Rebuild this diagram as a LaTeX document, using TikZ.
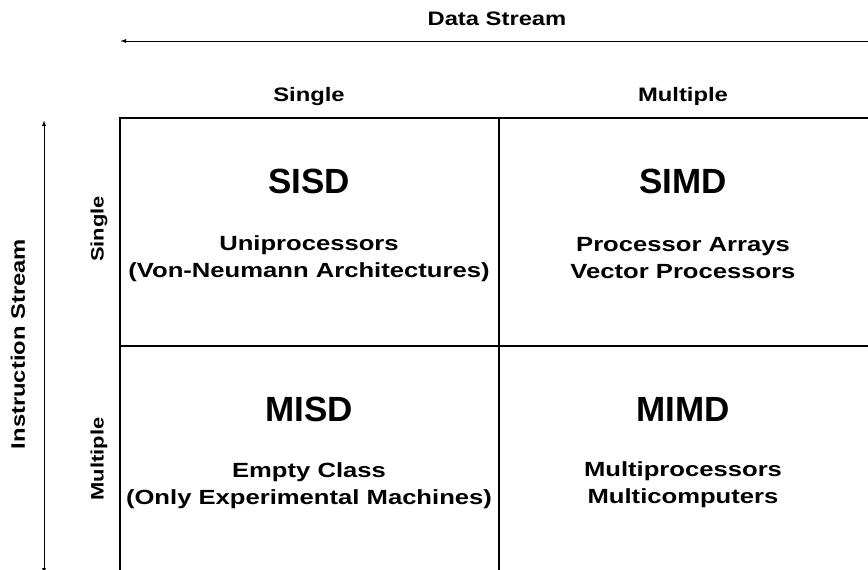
\documentclass[tikz,border=0pt]{standalone}
\usepackage{fontspec}
\setmainfont{Liberation Sans}
\newfontfamily\widesans[FakeStretch=1.22]{Liberation Sans}
\newfontfamily\widersans[FakeStretch=1.25]{Liberation Sans}
\usetikzlibrary{arrows.meta}

\begin{document}
\begin{tikzpicture}[x=1pt, y=-1pt, >={Latex[length=6pt,width=4pt]},
    axislabel/.style={font=\widesans\bfseries\fontsize{19.5}{22}\selectfont},
    sidelabel/.style={font=\widesans\bfseries\fontsize{18}{22}\selectfont, rotate=90},
    classname/.style={font=\bfseries\fontsize{35}{40}\selectfont},
    classtext/.style={font=\widersans\bfseries\fontsize{20.5}{27}\selectfont, align=center}]
  \useasboundingbox (0,0) rectangle (868,570);
  % stream arrows
  \coordinate (dataL) at (120,41);
  \coordinate (dataR) at (890,41);
  \draw[line width=1pt, <-] (dataL) -- (dataR);
  \node[axislabel] (data) at (497,19) {Data Stream};
  \coordinate (instT) at (44,120);
  \coordinate (instB) at (44,574);
  \draw[line width=1pt, <->] (instB) -- (instT);
  \node[axislabel, rotate=90] (inst) at (18,344) {Instruction Stream};
  % column and row headings
  \node[axislabel] (colS) at (309,96) {Single};
  \node[axislabel] (colM) at (683,96) {Multiple};
  \node[sidelabel] (rowS) at (99,229) {Single};
  \node[sidelabel] (rowM) at (99,459) {Multiple};
  % grid
  \draw[line width=1.3pt] (120,590) |- (890,118);
  \draw[line width=1.3pt] (499,118) -- (499,590);
  \draw[line width=1.3pt] (120,346) -- (890,346);
  % the four classes
  \node[classname] (sisd) at (309,181) {SISD};
  \node[classtext] (sisdT) at (309,259) {Uniprocessors\\(Von-Neumann Architectures)};
  \node[classname] (simd) at (683,181) {SIMD};
  \node[classtext] (simdT) at (683,258) {Processor Arrays\\Vector Processors};
  \node[classname] (misd) at (309,409) {MISD};
  \node[classtext] (misdT) at (309,486) {Empty Class\\(Only Experimental Machines)};
  \node[classname] (mimd) at (683,409) {MIMD};
  \node[classtext] (mimdT) at (683,485) {Multiprocessors\\Multicomputers};
\end{tikzpicture}
\end{document}
